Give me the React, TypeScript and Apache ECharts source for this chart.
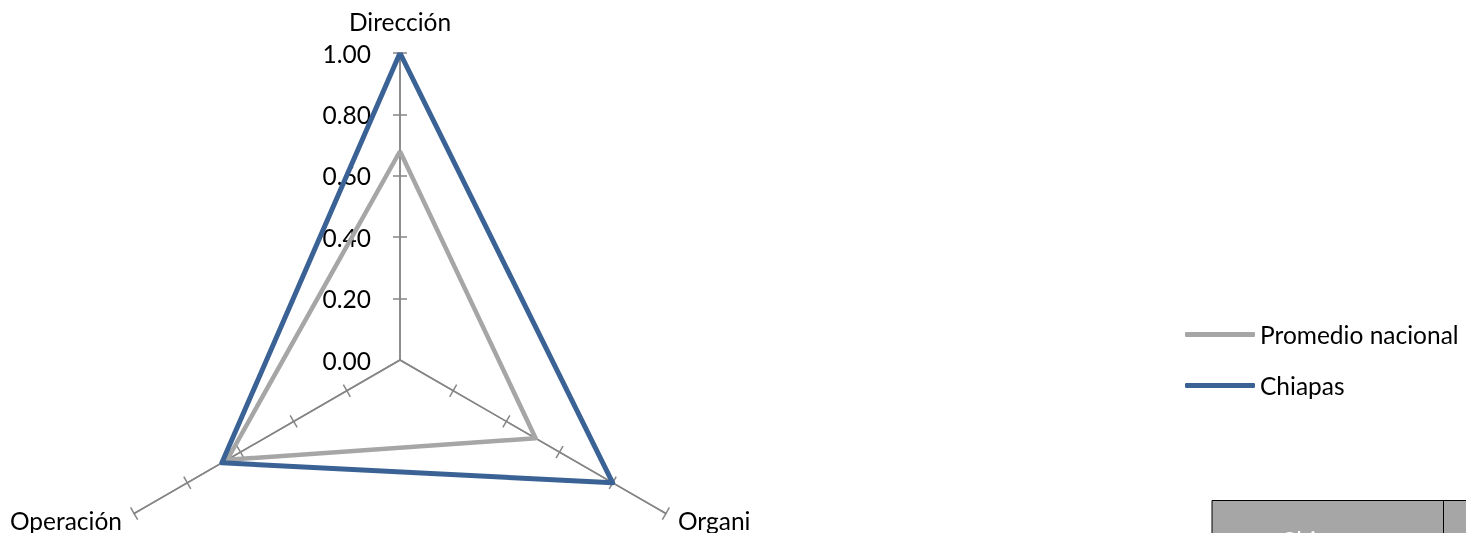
import React, { useEffect, useRef } from "react";
import * as echarts from "echarts";

const indicatorNames = ["Dirección", "Operación", "Organi"];
const seriesNames = ["Promedio nacional", "Chiapas"];
const promedioValues = [0.68, 0.65, 0.51];
const chiapasValues = [1.0, 0.67, 0.8];
const tableLabel = "Chiapas";

const FONT = "Lato";
const FS = 24.5;

export default function App() {
  const ref = useRef<HTMLDivElement>(null);
  useEffect(() => {
    if (!ref.current) return;
    const chart = echarts.init(ref.current, null, { renderer: "svg" });
    const indicator = indicatorNames.map((n) => ({ name: n, min: 0, max: 1 }));
    const radarBase = {
      center: [400, 360],
      radius: 307,
      startAngle: 90,
      splitNumber: 5,
      shape: "polygon",
      indicator,
      splitArea: { show: false },
      splitLine: { show: false },
      axisLine: { lineStyle: { color: "#868686", width: 1.5 } },
      axisLabel: { show: false },
    };
    const tickValues = [0.2, 0.4, 0.6, 0.8, 1];
    chart.setOption({
      animation: false,
      color: ["#A6A6A6", "#3A6294"],
      grid: { left: 400, top: 53, width: 1, height: 307 },
      xAxis: { type: "value", show: false },
      yAxis: {
        type: "value",
        min: 0,
        max: 1,
        interval: 0.2,
        axisLine: { show: false },
        axisTick: { show: false },
        splitLine: { show: false },
        axisLabel: {
          margin: 29,
          color: "#000",
          fontSize: FS,
          fontFamily: FONT,
          formatter: (v: number) => v.toFixed(2),
        },
      },
      radar: [
        {
          ...radarBase,
          nameGap: 14,
          axisName: {
            color: "#000",
            fontSize: FS,
            fontFamily: FONT,
            formatter: (name: string) => (name === indicatorNames[0] ? `{top|${name}}` : name),
            rich: { top: { color: "#000", fontSize: FS, fontFamily: FONT, padding: [0, 0, 5, 0] } },
          },
          axisTick: { show: true, length: 7, lineStyle: { color: "#868686", width: 1.5 }, customValues: tickValues },
        },
        {
          ...radarBase,
          axisName: { show: false },
          axisTick: { show: true, length: -7, lineStyle: { color: "#868686", width: 1.5 }, customValues: tickValues },
        },
      ],
      legend: {
        data: seriesNames,
        orient: "vertical",
        left: 1185,
        top: 322,
        padding: 0,
        itemGap: 26,
        itemWidth: 70,
        itemHeight: 5,
        icon: "roundRect",
        textStyle: { color: "#000", fontSize: FS, fontFamily: FONT },
      },
      series: [
        {
          type: "radar",
          radarIndex: 0,
          symbol: "none",
          data: [
            { name: seriesNames[0], value: promedioValues, lineStyle: { width: 4.5, color: "#A6A6A6" }, itemStyle: { color: "#A6A6A6" } },
            { name: seriesNames[1], value: chiapasValues, lineStyle: { width: 5, color: "#3A6294" }, itemStyle: { color: "#3A6294" } },
          ],
        },
      ],
      graphic: [
        {
          type: "rect",
          shape: { x: 1212, y: 500.5, width: 300, height: 60 },
          style: { fill: "#A6A6A6", stroke: "#000", lineWidth: 1 },
        },
        {
          type: "line",
          shape: { x1: 1443.5, y1: 500.5, x2: 1443.5, y2: 540 },
          style: { stroke: "#000", lineWidth: 1 },
        },
        {
          type: "text",
          x: 1280,
          y: 540,
          style: { text: tableLabel, fill: "#fff", fontSize: FS, fontFamily: FONT, verticalAlign: "middle", align: "left" },
        },
      ],
    });
    return () => chart.dispose();
  }, []);
  return <div ref={ref} style={{ position: "fixed", left: 0, top: 0, width: 1466, height: 533 }} />;
}
